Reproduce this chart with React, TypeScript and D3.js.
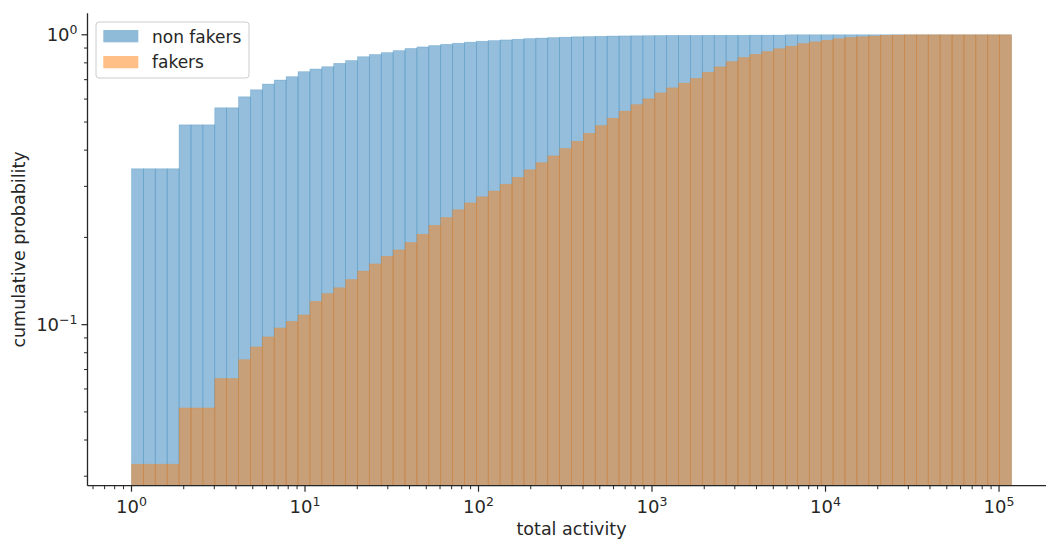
import React from 'react';
import * as d3 from 'd3';

const SERIES_NAMES = ['non fakers', 'fakers'];
const SERIES_COLORS = ['#1f77b4', '#ff7f0e'];
const BIN_COUNT = 74;
const MIN_ACTIVITY = 1;
const MAX_ACTIVITY = 118000;

// cumulative probability per log-spaced bin
const nonFakers = [
  0.345, 0.345, 0.345, 0.345, 0.489, 0.489, 0.489, 0.56, 0.56, 0.611,
  0.646, 0.676, 0.698, 0.717, 0.746, 0.762, 0.776, 0.797, 0.815, 0.84,
  0.855, 0.868, 0.882, 0.897, 0.908, 0.918, 0.927, 0.935, 0.943, 0.95,
  0.955, 0.96, 0.965, 0.97, 0.974, 0.978, 0.981, 0.984, 0.986, 0.988,
  0.99, 0.991, 0.992, 0.993, 0.994, 0.995, 0.995, 0.995, 0.996, 0.996,
  0.996, 0.996, 0.997, 0.997, 0.997, 1, 1, 1, 1, 1,
  1, 1, 1, 1, 1, 1, 1, 1, 1, 1,
  1, 1, 1, 1,
];
const fakers = [
  0.033, 0.033, 0.033, 0.033, 0.0516, 0.0516, 0.0516, 0.0652, 0.0652, 0.0757,
  0.0838, 0.0907, 0.0974, 0.1026, 0.108, 0.1203, 0.128, 0.134, 0.143, 0.153,
  0.162, 0.172, 0.181, 0.192, 0.205, 0.22, 0.234, 0.249, 0.263, 0.276,
  0.289, 0.305, 0.322, 0.342, 0.362, 0.382, 0.405, 0.429, 0.457, 0.486,
  0.515, 0.545, 0.574, 0.601, 0.63, 0.656, 0.681, 0.707, 0.742, 0.775,
  0.808, 0.835, 0.856, 0.875, 0.895, 0.913, 0.932, 0.945, 0.957, 0.969,
  0.979, 0.984, 0.99, 0.995, 0.998, 1, 1, 1, 1, 1,
  1, 1, 1, 1,
];
const X_TICK_EXPONENTS = [0, 1, 2, 3, 4, 5];
const Y_TICK_EXPONENTS = [0, -1];
const X_LABEL = 'total activity';
const Y_LABEL = 'cumulative probability';

const W = 1046;
const H = 540;
const FONT = '"DejaVu Sans", Verdana, sans-serif';

export default function App() {
  const lx0 = Math.log10(MIN_ACTIVITY);
  const lx1 = Math.log10(MAX_ACTIVITY);
  const padX = 0.05 * (lx1 - lx0);
  const x = d3.scaleLog().domain([10 ** (lx0 - padX), 10 ** (lx1 + padX)]).range([87.5, 1055.5]);

  const allVals = [...nonFakers, ...fakers];
  const ly0 = Math.log10(d3.min(allVals) as number);
  const ly1 = Math.log10(d3.max(allVals) as number);
  const padY = 0.05 * (ly1 - ly0);
  const y = d3.scaleLog().domain([10 ** (ly0 - padY), 10 ** (ly1 + padY)]).range([485.7, 13.3]);

  const edges = d3.range(BIN_COUNT + 1).map((i) => 10 ** (lx0 + (i * (lx1 - lx0)) / BIN_COUNT));
  const [yBottom, yTop] = y.range();
  const [xLeft, xRight] = x.range();

  const xMinor: number[] = [];
  const xDom = x.domain();
  for (let e = -1; e <= 6; e++) {
    for (let m = 2; m <= 9; m++) {
      const v = m * 10 ** e;
      if (v >= xDom[0] && v <= xDom[1]) xMinor.push(v);
    }
  }
  const yMinor: number[] = [];
  const yDom = y.domain();
  for (let e = -3; e <= 1; e++) {
    for (let m = 2; m <= 9; m++) {
      const v = m * 10 ** e;
      if (v >= yDom[0] && v <= yDom[1]) yMinor.push(v);
    }
  }

  const series = [nonFakers, fakers];
  const axisColor = '#262626';

  return (
    <svg width={W} height={H} style={{ position: 'absolute', left: 0, top: 0, background: '#fff' }} fontFamily={FONT}>
      <rect x={0} y={0} width={W} height={H} fill="#fff" />
      {series.map((vals, si) => (
        <g key={si}>
          {vals.map((v, i) => {
            const x0 = x(edges[i]);
            const x1 = x(edges[i + 1]);
            const yy = y(v);
            return (
              <rect
                key={i}
                x={x0}
                y={yy}
                width={x1 - x0}
                height={yBottom - yy}
                fill={SERIES_COLORS[si]}
                fillOpacity={0.48}
                stroke={SERIES_COLORS[si]}
                strokeOpacity={0.3}
                strokeWidth={0.7}
              />
            );
          })}
        </g>
      ))}

      {/* spines */}
      <line x1={xLeft} x2={xRight} y1={yBottom} y2={yBottom} stroke={axisColor} strokeWidth={1.3} />
      <line x1={xLeft} x2={xLeft} y1={yTop} y2={yBottom} stroke={axisColor} strokeWidth={1.3} />

      {/* x ticks */}
      {xMinor.map((v) => (
        <line key={'xm' + v} x1={x(v)} x2={x(v)} y1={yBottom} y2={yBottom + 3.5} stroke={axisColor} strokeWidth={1} />
      ))}
      {X_TICK_EXPONENTS.map((e) => {
        const px = x(10 ** e);
        return (
          <g key={'xt' + e}>
            <line x1={px} x2={px} y1={yBottom} y2={yBottom + 6} stroke={axisColor} strokeWidth={1.2} />
            <text x={px} y={513} textAnchor="middle" fontSize={18} fill={axisColor}>
              10<tspan dy={-7} fontSize={12.5}>{e < 0 ? '\u2212' + Math.abs(e) : e}</tspan>
            </text>
          </g>
        );
      })}

      {/* y ticks */}
      {yMinor.map((v) => (
        <line key={'ym' + v} x1={xLeft - 3.5} x2={xLeft} y1={y(v)} y2={y(v)} stroke={axisColor} strokeWidth={1} />
      ))}
      {Y_TICK_EXPONENTS.map((e) => {
        const py = y(10 ** e);
        return (
          <g key={'yt' + e}>
            <line x1={xLeft - 6} x2={xLeft} y1={py} y2={py} stroke={axisColor} strokeWidth={1.2} />
            <text x={77.5} y={py + 6.5} textAnchor="end" fontSize={18} fill={axisColor}>
              10<tspan dy={-7} fontSize={12.5}>{e < 0 ? '\u2212' + Math.abs(e) : e}</tspan>
            </text>
          </g>
        );
      })}

      {/* axis labels */}
      <text x={(xLeft + xRight) / 2} y={535} textAnchor="middle" fontSize={17.5} fill={axisColor}>
        {X_LABEL}
      </text>
      <text
        transform={`translate(25,${(yTop + yBottom) / 2}) rotate(-90)`}
        textAnchor="middle"
        fontSize={17.5}
        fill={axisColor}
      >
        {Y_LABEL}
      </text>

      {/* legend */}
      <g>
        <rect x={96} y={22} width={153} height={56} rx={3} fill="#fff" fillOpacity={0.8} stroke="#cccccc" strokeWidth={1} />
        {SERIES_NAMES.map((name, i) => (
          <g key={name}>
            <rect x={103.3} y={30 + i * 26} width={35} height={12.3} fill={SERIES_COLORS[i]} fillOpacity={0.5} />
            <text x={152} y={42.7 + i * 25.6} fontSize={17} fill={axisColor}>
              {name}
            </text>
          </g>
        ))}
      </g>
    </svg>
  );
}
